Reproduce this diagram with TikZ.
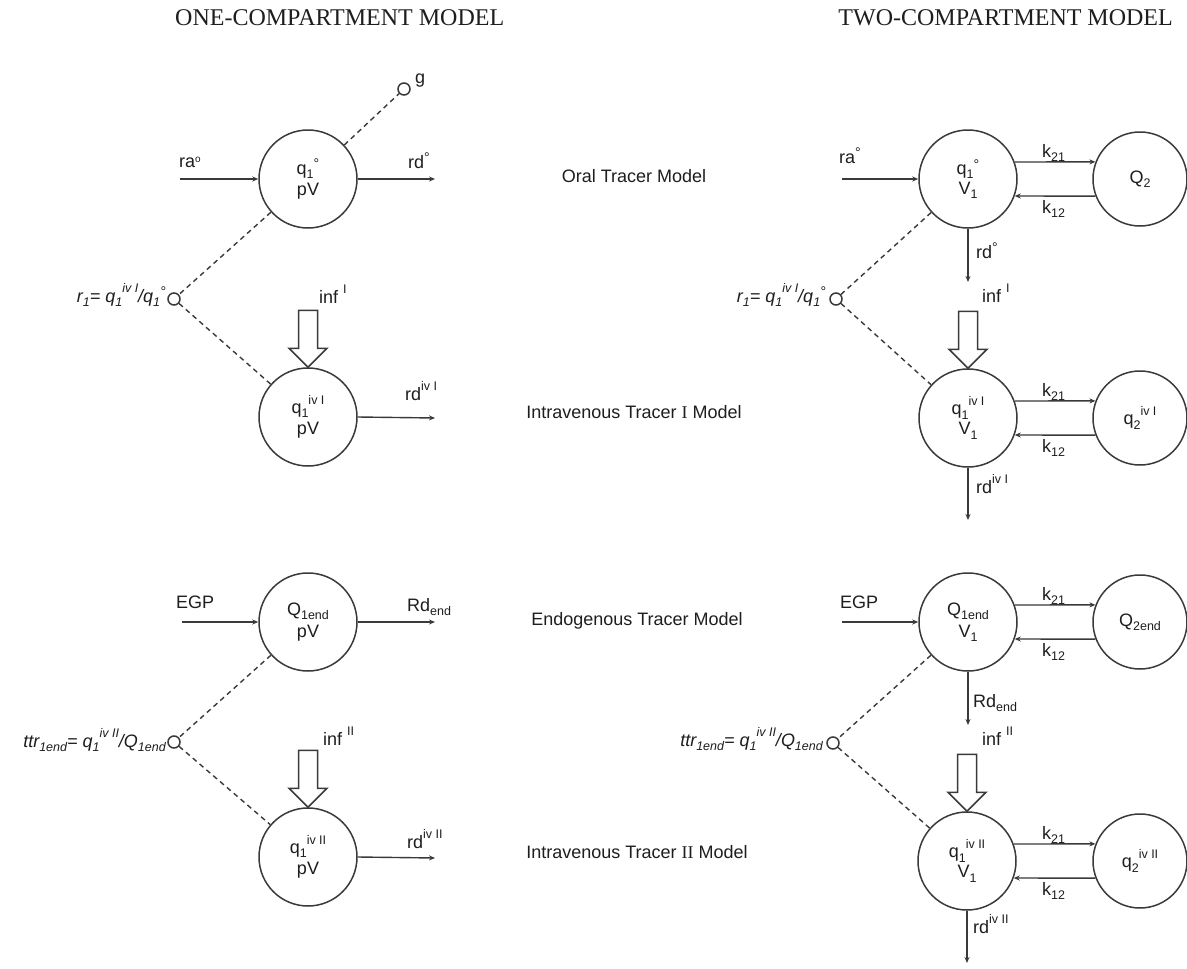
\documentclass[tikz,border=0pt]{standalone}
\usepackage{fontspec}
\setmainfont{Liberation Sans}
\newfontfamily\serifface{Liberation Serif}
\usetikzlibrary{arrows.meta,calc}
\definecolor{lineC}{HTML}{3A3A3A}
\definecolor{txtC}{HTML}{1E1E1E}
\newcommand\lab{\fontsize{18}{20}\selectfont}
\newcommand\ttlf{\serifface\fontsize{24}{26}\selectfont}
\newcommand\lo[1]{\raisebox{-0.45ex}{\fontsize{12.5}{13}\selectfont #1}}
\newcommand\hi[1]{\raisebox{0.95ex}{\fontsize{12.5}{13}\selectfont #1}}
\newcommand\dg{\raisebox{0.55ex}{\fontsize{14}{14}\selectfont °}}
\begin{document}
\begin{tikzpicture}[x=1pt,y=-1pt,
  comp/.style={circle, draw=lineC, line width=1.5pt, minimum size=98pt, inner sep=0pt, align=center, font=\lab, text=txtC},
  compb/.style={comp, minimum size=94pt},
  dot/.style={circle, draw=lineC, line width=1.5pt, minimum size=12pt, inner sep=0pt},
  flow/.style={draw=lineC, line width=1.4pt, -{Stealth[length=6pt,width=5pt]}},
  dsh/.style={draw=lineC, line width=1.4pt, dash pattern=on 5pt off 4pt},
  fat/.style={draw=lineC, line width=1.5pt, fill=white, line join=miter},
  lbl/.style={inner sep=0pt, text=txtC, font=\lab},
  ttl/.style={inner sep=0pt, font=\ttlf, text=txtC}]
\useasboundingbox[fill=white] (0,0) rectangle (1187,969);

% titles
\node[ttl, anchor=base west] (t1) at (175,25) {ONE-COMPARTMENT MODEL};
\node[ttl, anchor=base east] (t2) at (1173,25) {TWO-COMPARTMENT MODEL};

% middle labels
\node[lbl, anchor=base] (m1) at (634,182) {Oral Tracer Model};
\node[lbl, anchor=base] (m2) at (634,418) {Intravenous Tracer {\serifface I} Model};
\node[lbl, anchor=base] (m3) at (637,625) {Endogenous Tracer Model};
\node[lbl, anchor=base] (m4) at (637,858) {Intravenous Tracer {\serifface II} Model};

% ---------------- one-compartment ----------------
\node[comp] (c1) at (308,179) {q\lo{1}\dg\\[1pt]pV};
\node[comp] (c2) at (308,417) {q\lo{1}\hi{iv I}\\[1pt]pV};
\node[comp] (c3) at (308,622) {Q\lo{1end}\\[2pt]pV};
\node[comp] (c4) at (308,857) {q\lo{1}\hi{iv II}\\[1pt]pV};

\node[dot] (g) at (404,89) {};
\node[dot] (r1) at (174,299) {};
\node[dot] (ttr) at (174,742) {};

\coordinate (raS) at (180,179);
\coordinate (rdE) at (435,179);
\coordinate (rdiE) at (435,418);
\coordinate (egS) at (182,622);
\coordinate (RdE) at (435,622);
\coordinate (rdiiE) at (435,858);

\draw[flow] (raS) -- (c1.west);
\draw[flow] (c1.east) -- (rdE);
\draw[flow] (c2.east) -- (rdiE);
\draw[flow] (egS) -- (c3.west);
\draw[flow] (c3.east) -- (RdE);
\draw[flow] (c4.east) -- (rdiiE);

\draw[dsh] (c1) -- (g);
\draw[dsh] (c1) -- (r1);
\draw[dsh] (r1) -- (c2);
\draw[dsh] (c3) -- (ttr);
\draw[dsh] (ttr) -- (c4);

\draw[fat] (c2.north) -- ++(-19,-19) -- ++(9.5,0) -- ++(0,-38) -- ++(19,0) -- ++(0,38) -- ++(9.5,0) -- cycle;
\draw[fat] (c4.north) -- ++(-19,-19) -- ++(9.5,0) -- ++(0,-38) -- ++(19,0) -- ++(0,38) -- ++(9.5,0) -- cycle;

\node[lbl, anchor=base west] (lra) at (179,167) {ra\raisebox{0.5ex}{\fontsize{10}{10}\selectfont o}};
\node[lbl, anchor=base west] (lrd) at (408,168) {rd\dg};
\node[lbl, anchor=base west] (lg) at (415,83) {g};
\node[lbl, anchor=base east, font=\lab\itshape] (lr1) at (166,302) {r\lo{1}= q\lo{1}\hi{iv I}/q\lo{1}\dg};
\node[lbl, anchor=base west] (linf1) at (319,303) {inf \hi{I}};
\node[lbl, anchor=base west] (lrdi) at (405,400) {rd\hi{iv I}};
\node[lbl, anchor=base west] (legp) at (176,608) {EGP};
\node[lbl, anchor=base west] (lRd) at (407,611) {Rd\lo{end}};
\node[lbl, anchor=base east, font=\lab\itshape] (lttr) at (166,747) {ttr\lo{1end}= q\lo{1}\hi{iv II}/Q\lo{1end}};
\node[lbl, anchor=base west] (linf2) at (323,745) {inf \hi{II}};
\node[lbl, anchor=base west] (lrdii) at (407,848) {rd\hi{iv II}};

% ---------------- two-compartment ----------------
\node[comp] (A) at (968,179) {q\lo{1}\dg\\[0pt]V\lo{1}};
\node[compb] (A2) at (1140,179) {Q\lo{2}};
\node[comp] (B) at (968,418) {q\lo{1}\hi{iv I}\\[0pt]V\lo{1}};
\node[compb] (B2) at (1140,418) {q\lo{2}\hi{iv I}};
\node[comp] (C) at (968,622) {Q\lo{1end}\\[2pt]V\lo{1}};
\node[compb] (C2) at (1140,622) {Q\lo{2end}};
\node[comp] (D) at (967,861) {q\lo{1}\hi{iv II}\\[0pt]V\lo{1}};
\node[compb] (D2) at (1140,861) {q\lo{2}\hi{iv II}};

\node[dot] (r1b) at (836,299) {};
\node[dot] (ttrb) at (833,743) {};

\coordinate (raSb) at (842,179);
\coordinate (egSb) at (842,622);
\coordinate (rdAE) at (968,282);
\coordinate (rdBE) at (968,520);
\coordinate (RdCE) at (968,725);
\coordinate (rdDE) at (967,963);

\draw[flow] (raSb) -- (A.west);
\draw[flow] (egSb) -- (C.west);
\draw[flow] (A.south) -- (rdAE);
\draw[flow] (B.south) -- (rdBE);
\draw[flow] (C.south) -- (RdCE);
\draw[flow] (D.south) -- (rdDE);

\foreach \p/\q in {A/A2,B/B2,C/C2,D/D2}{
  \draw[flow] (\p.20) -- (\q.159);
  \draw[flow] (\q.201) -- (\p.340);
}

\draw[dsh] (A) -- (r1b);
\draw[dsh] (r1b) -- (B);
\draw[dsh] (C) -- (ttrb);
\draw[dsh] (ttrb) -- (D);

\draw[fat] (B.north) -- ++(-19,-19) -- ++(9.5,0) -- ++(0,-38) -- ++(19,0) -- ++(0,38) -- ++(9.5,0) -- cycle;
\draw[fat] (D.north) -- ++(-19,-19) -- ++(9.5,0) -- ++(0,-38) -- ++(19,0) -- ++(0,38) -- ++(9.5,0) -- cycle;

\node[lbl, anchor=base west] (rra) at (839,163) {ra\dg};
\node[lbl, anchor=base west] (rk21a) at (1042,157) {k\lo{21}};
\node[lbl, anchor=base west] (rk12a) at (1042,213) {k\lo{12}};
\node[lbl, anchor=base west] (rrd) at (976,258) {rd\dg};
\node[lbl, anchor=base east, font=\lab\itshape] (rr1) at (826,302) {r\lo{1}= q\lo{1}\hi{iv I}/q\lo{1}\dg};
\node[lbl, anchor=base west] (rinf1) at (982,302) {inf \hi{I}};
\node[lbl, anchor=base west] (rk21b) at (1042,396) {k\lo{21}};
\node[lbl, anchor=base west] (rk12b) at (1042,452) {k\lo{12}};
\node[lbl, anchor=base west] (rrdi) at (976,493) {rd\hi{iv I}};
\node[lbl, anchor=base west] (regp) at (840,608) {EGP};
\node[lbl, anchor=base west] (rk21c) at (1042,600) {k\lo{21}};
\node[lbl, anchor=base west] (rk12c) at (1042,656) {k\lo{12}};
\node[lbl, anchor=base west] (rRd) at (973,707) {Rd\lo{end}};
\node[lbl, anchor=base west] (rinf2) at (982,745) {inf \hi{II}};
\node[lbl, anchor=base east, font=\lab\itshape] (rttr) at (823,746) {ttr\lo{1end}= q\lo{1}\hi{iv II}/Q\lo{1end}};
\node[lbl, anchor=base west] (rk21d) at (1042,839) {k\lo{21}};
\node[lbl, anchor=base west] (rk12d) at (1042,895) {k\lo{12}};
\node[lbl, anchor=base west] (rrdii) at (973,933) {rd\hi{iv II}};
\end{tikzpicture}
\end{document}
